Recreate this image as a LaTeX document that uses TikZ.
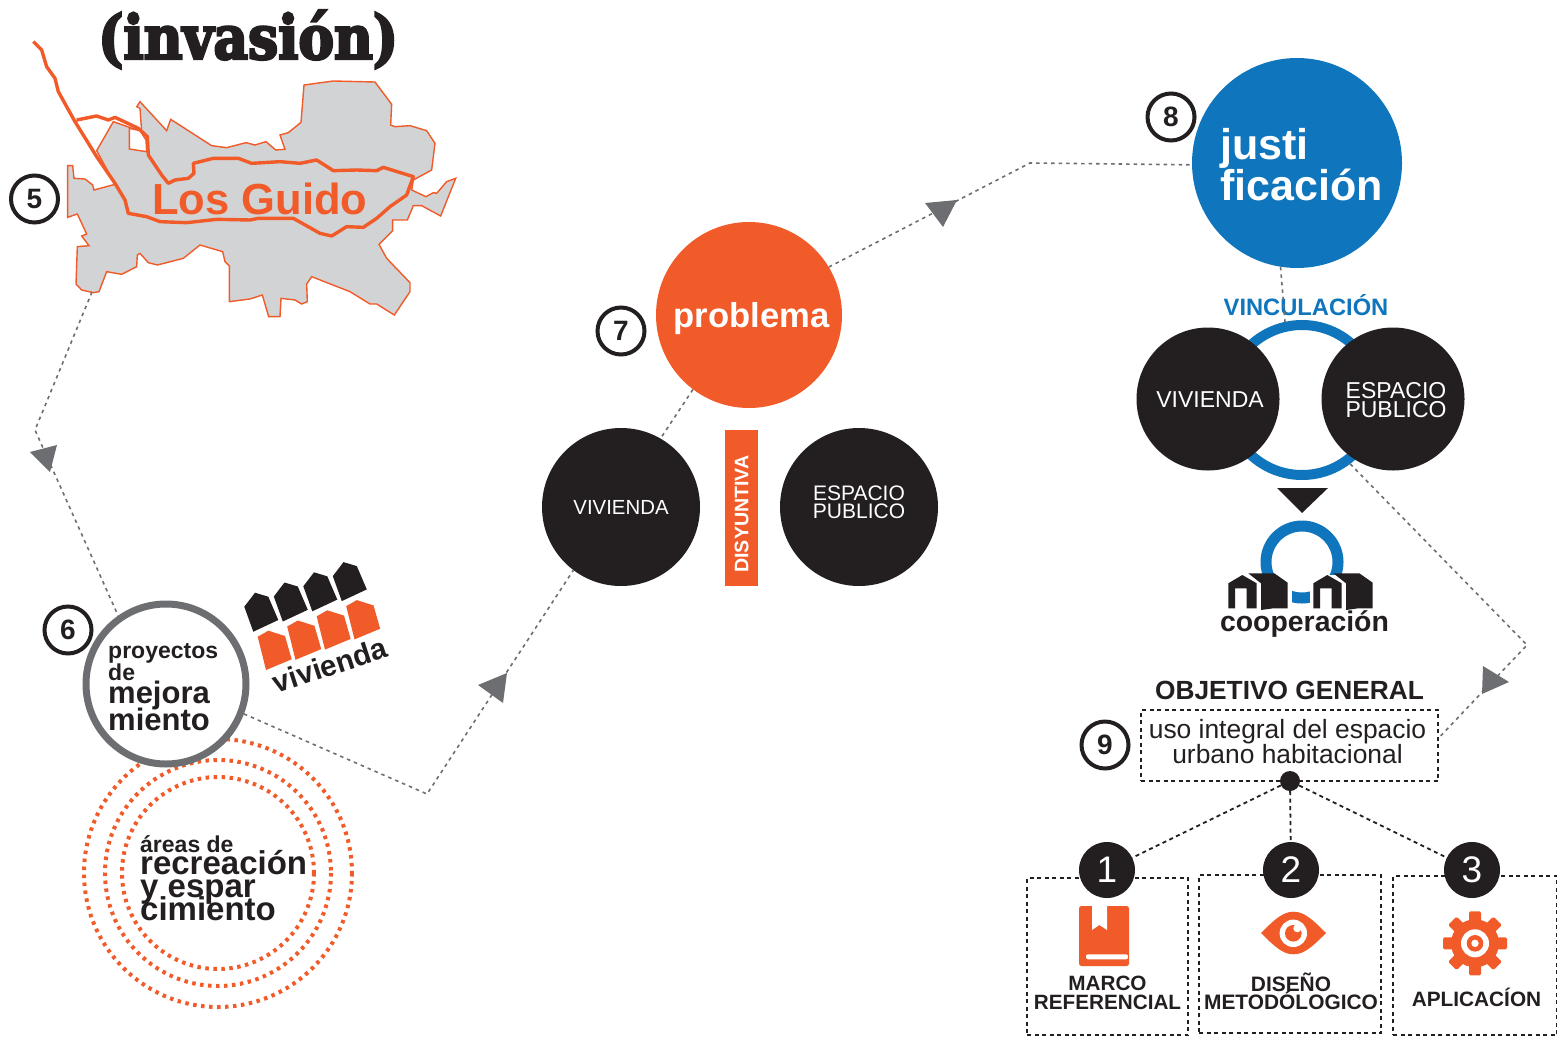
\documentclass[tikz,border=0pt]{standalone}
\usepackage{fontspec}
\setmainfont{Liberation Sans}
\newfontfamily\titulofont[FakeBold=4,FakeStretch=0.875]{DejaVu Serif Bold}
\usetikzlibrary{positioning,shapes.geometric}
\definecolor{naranja}{HTML}{F15A29}
\definecolor{negro}{HTML}{231F20}
\definecolor{azul}{HTML}{0F75BC}
\definecolor{gris}{HTML}{6D6E71}
\definecolor{grismapa}{HTML}{D1D3D4}
\newcommand{\tam}[2]{\fontsize{#1}{#2}\selectfont\lineskiplimit=-100pt\relax}

\begin{document}
\begin{tikzpicture}[x=1pt,y=-1pt]
	\tikzset{numero/.style={draw=negro,circle,line width=4pt,minimum size=47pt,inner sep=0pt,text=negro,font=\tam{28}{28}\bfseries},
		negrita/.style={circle,fill=negro,text=white,inner sep=0pt,align=center},
		link/.style={draw=gris,line width=1.6pt,dash pattern=on 3.5pt off 4pt},
		punta/.style={fill=gris},
		punteo/.style={draw=naranja,line width=4pt,dash pattern=on 3.5pt off 4.5pt},
		caja/.style={draw=negro,line width=1.8pt,dash pattern=on 4pt off 3.5pt,inner sep=0pt},
		rama/.style={draw=negro,line width=1.8pt,dash pattern=on 4pt off 3.5pt},
		etiqueta/.style={text=negro,inner sep=0pt,anchor=base west,align=left},
		rotulo/.style={text=negro,inner sep=0pt,align=center},
		mapa/.style={draw=naranja,line width=1.4pt,fill=grismapa},
		calle/.style={draw=naranja,line width=3.4pt,line join=round},
		numeronegro/.style={circle,fill=negro,text=white,minimum size=56pt,inner sep=0pt,font=\tam{37}{37}},
	}
	\useasboundingbox (0,0) rectangle (1557,1036);

	\node[etiqueta,font=\titulofont\tam{61}{61}] (titulo) at (98,59) {(invasión)};

	% mapa
	\begin{scope}[scale=1/3]
		\path[mapa] (203,497) -- (218,497) -- (222,535) -- (255,537) -- (278,555) -- (282,570) -- (345,553) -- (290,452) -- (340,365) -- (425,395) -- (420,325) -- (410,320) -- (420,305) -- (500,392) -- (512,358) -- (635,437) -- (680,443) -- (738,428) -- (765,435) -- (798,425) -- (827,450) -- (855,448) -- (840,405) -- (865,398) -- (903,367) -- (912,255) -- (1000,243) -- (1125,246) -- (1175,313) -- (1172,375) -- (1185,380) -- (1230,377) -- (1280,392) -- (1305,430) -- (1295,510) -- (1240,540) -- (1235,570) -- (1278,590) -- (1300,578) -- (1310,580) -- (1340,545) -- (1367,535) -- (1322,648) -- (1265,617) -- (1240,617) -- (1222,660) -- (1178,660) -- (1178,692) -- (1137,733) -- (1160,775) -- (1230,848) -- (1230,875) -- (1183,945) -- (1130,912) -- (1110,912) -- (1050,875) -- (935,830) -- (920,852) -- (922,905) -- (905,912) -- (885,900) -- (843,895) -- (840,950) -- (806,950) -- (787,885) -- (750,897) -- (688,905) -- (688,798) -- (675,785) -- (668,755) -- (600,735) -- (550,775) -- (472,795) -- (445,788) -- (420,760) -- (412,765) -- (410,800) -- (365,823) -- (320,815) -- (297,875) -- (280,878) -- (245,870) -- (228,852) -- (232,740) -- (267,737) -- (245,708) -- (260,702) -- (232,642) -- (203,652) -- cycle;
		\path[draw=naranja,line width=1.4pt,fill=white] (388,385) -- (388,447) -- (440,455) -- (438,420) -- (420,392) -- cycle;
		\path[calle] (100,125) -- (125,150) -- (140,200) -- (165,235) -- (175,275) -- (225,365) -- (290,470) -- (345,550) -- (375,600) -- (385,640) -- (440,650) -- (480,665) -- (560,668) -- (650,658) -- (750,660) -- (775,655) -- (880,655) -- (960,700) -- (995,708) -- (1040,680) -- (1090,682) -- (1130,655) -- (1170,620) -- (1220,585) -- (1240,530) -- (1150,502) -- (1130,512) -- (1070,510) -- (1000,512) -- (950,480) -- (900,490) -- (840,485) -- (755,490) -- (715,475) -- (640,475) -- (580,490) -- (582,520) -- (565,535) -- (525,540) -- (505,550) -- (485,525) -- (445,465) -- (442,410) -- (415,385) -- (345,352) -- (325,360) -- (290,348) -- (230,360);
	\end{scope}
	\node[etiqueta,font=\tam{43.5}{43}\bfseries,text=naranja] (guido) at (152,214) {Los Guido};
	\node[numero] (n5) at (34.5,199) {5};
	\coordinate (mapasur) at (92,292);

	% proyectos y areas
	\foreach \r in {134,113,96}
		\path[punteo] (218,873) circle (\r);
	\node[circle,draw=gris,fill=white,line width=7pt,minimum size=160pt,inner sep=0pt] (mejora) at (166,684) {};
	\node[numero] (n6) at (68,630) {6};
	\node[etiqueta,font=\tam{23}{22}\bfseries] (mejoratxt) at (108,730) {proyectos\\de\\[1pt]\tam{31}{27}mejora\\[5pt]\tam{31}{27}miento};
	\node[etiqueta,font=\tam{23}{23}\bfseries] (areastxt) at (140,920.5) {áreas de\\[-1pt]\tam{33}{23}recreación\\\tam{33}{23}y espar\\\tam{33}{23}cimiento};
	\foreach \i in {0,1,2,3} {
		\begin{scope}[shift={(29.5*\i,-10.2*\i)}]
			\path[fill=negro] (244.3,606.7) -- (255,592.7) -- (268.3,596.7) -- (278.3,620) -- (253.3,631.7) -- cycle;
			\path[fill=naranja] (257.7,636.7) -- (268.3,630.7) -- (285,636) -- (291.7,659.3) -- (266,670) -- cycle;
		\end{scope}
	}
	\node[rotulo,font=\tam{29.6}{30}\bfseries,rotate=18] (viviendatxt) at (330,665) {vivienda};

	% problema
	\node[circle,fill=naranja,minimum size=186pt,inner sep=0pt] (problema) at (749,315) {};
	\node[rotulo,text=white,font=\tam{34.6}{35}\bfseries] (problematxt) at (751.5,319) {problema};
	\node[numero] (n7) at (621,331) {7};
	\node[negrita,minimum size=158pt,font=\tam{20.4}{18}] (vivienda) at (621,507) {VIVIENDA};
	\node[negrita,minimum size=158pt] (espacio) at (859,507) {};
	\node[rotulo,text=white,font=\tam{21}{18}] (espaciotxt) at (859,502.5) {ESPACIO\\PUBLICO};
	\node[fill=naranja,text=white,minimum width=33pt,minimum height=156pt,inner sep=0pt] (disyuntiva) at (741.5,508) {};
	\node[text=white,inner sep=0pt,rotate=90,font=\tam{19.6}{20}\bfseries] (disyuntivatxt) at (741.5,514) {DISYUNTIVA};

	% justificacion
	\node[circle,fill=azul,minimum size=210pt,inner sep=0pt] (justi) at (1297,163) {};
	\node[etiqueta,text=white,font=\tam{43}{41}\bfseries] (justitxt) at (1220,200) {justi\\ficación};
	\node[numero] (n8) at (1171,117) {8};
	\node[rotulo,font=\tam{23.7}{24}\bfseries,text=azul] (vinculacion) at (1306,305) {VINCULACIÓN};
	\coordinate (vincfin) at (1285,322);
	\node[circle,draw=azul,line width=10pt,minimum size=150pt,inner sep=0pt] (anillo) at (1302,400) {};
	\node[negrita,minimum size=143pt] (vivienda2) at (1208,399) {};
	\node[negrita,minimum size=143pt] (espacio2) at (1393,399) {};
	\node[rotulo,text=white,font=\tam{23}{23}] (vivienda2txt) at (1210,400) {VIVIENDA};
	\node[rotulo,text=white,font=\tam{23}{19.5}] (espacio2txt) at (1396,400) {ESPACIO\\PUBLICO};
	\path[fill=negro] (1277,488) -- (1328,488) -- (1302,513) -- cycle;

	% cooperacion
	\node[circle,draw=azul,line width=11pt,minimum size=72pt,inner sep=0pt] (anillo2) at (1302,562) {};
	\path[fill=white] (1226,575) rectangle (1292,612);
	\path[fill=white] (1310,575) rectangle (1376,612);
	\foreach \d in {0,85} {
		\begin{scope}[xshift=\d]
			\path[fill=negro] (1228.3,583.3) -- (1242.3,575) -- (1256.7,583.3) -- (1256.7,608.3) -- (1246.7,608.3) -- (1246.7,588.3) -- (1235,588.3) -- (1235,608.3) -- (1228.3,608.3) -- cycle;
			\path[fill=negro] (1248.3,573.3) -- (1274.3,573.3) -- (1287.7,582.7) -- (1287.7,608.3) -- (1273.3,608.3) -- (1261,610) -- (1261,583.3) -- cycle;
		\end{scope}
	}
	\node[rotulo,font=\tam{28.4}{28}\bfseries] (cooperacion) at (1304.5,624) {cooperación};

	% objetivo
	\node[rotulo,font=\tam{26.3}{27}\bfseries] (objetivotxt) at (1289.5,690) {OBJETIVO GENERAL};
	\node[caja,minimum width=297pt,minimum height=71pt] (objetivo) at (1289.5,745.5) {};
	\node[rotulo,font=\tam{26.4}{25}] (usotxt) at (1287.5,741.5) {uso integral del espacio\\urbano habitacional};
	\node[numero] (n9) at (1105,745) {9};
	\node[circle,fill=negro,minimum size=20pt,inner sep=0pt] (punto) at (1290,781) {};

	\node[caja,minimum width=161pt,minimum height=157pt] (caja1) at (1107.5,956.5) {};
	\node[caja,minimum width=182pt,minimum height=158pt] (caja2) at (1290,954) {};
	\node[caja,minimum width=164pt,minimum height=159pt] (caja3) at (1475,955.5) {};
	\node[numeronegro] (uno) at (1107,870) {1};
	\node[numeronegro] (dos) at (1291,870) {2};
	\node[numeronegro] (tres) at (1472,870) {3};

	% iconos
	\path[fill=naranja,rounded corners=2.5pt] (1079,906) rectangle (1129,966);
	\path[fill=white] (1092,905) -- (1107,905) -- (1107,930) -- (1099.3,925) -- (1092,930) -- cycle;
	\path[fill=white,rounded corners=2pt] (1086,954.3) rectangle (1128,959.3);

	\path[fill=naranja] (1261,933) .. controls (1275,919) and (1283,911.7) .. (1293.5,911.7) .. controls (1304,911.7) and (1312,919) .. (1326,933) .. controls (1312,947) and (1304,954.3) .. (1293.5,954.3) .. controls (1283,954.3) and (1275,947) .. cycle;
	\path[fill=white] (1293.3,933.3) circle (13.7);
	\path[fill=naranja] (1293.3,933.3) circle (8.3);
	\path[fill=white] (1297.3,928.3) circle (4);

	\path[fill=naranja] (1475,943.3) circle (24);
	\foreach \a in {0,45,...,315}
		\path[fill=naranja,rotate around={\a:(1475,943.3)},rounded corners=1.5pt] (1469,911.3) rectangle (1481,930);
	\path[fill=white] (1475,943.3) circle (14);
	\path[fill=naranja] (1475,943.3) circle (8.3);
	\path[fill=white] (1475,943.3) circle (3.7);

	\node[rotulo,font=\tam{20.7}{19}\bfseries] (marco) at (1107.5,993) {MARCO\\REFERENCIAL};
	\node[rotulo,font=\tam{20.9}{18}\bfseries] (diseno) at (1291,991) {DISEÑO\\METODÓLOGICO};
	\node[rotulo,font=\tam{20.8}{21}\bfseries] (aplicacion) at (1476.5,997.5) {APLICACÍON};

	% conectores
	\coordinate (c1) at (35,430);
	\coordinate (c2) at (427,794);
	\coordinate (c3) at (1030,163);
	\coordinate (c4) at (1527,645);
	\path[link] (mapasur) -- (c1) -- (mejora.125);
	\path[link] (mejora.-21) -- (c2) -- (vivienda.233);
	\path[link] (problema.233) -- (vivienda.60);
	\path[link] (problema.31) -- (c3) -- (justi.181);
	\path[link] (justi.261) -- (vincfin);
	\path[link] (anillo.-53) -- (c4) -- (objetivo.3);
	\path[punta] (30,452) -- (57,445) -- (50,472) -- cycle;
	\path[punta] (478,685) -- (507,673) -- (503,703) -- cycle;
	\path[punta] (925,203) -- (957,200) -- (943,227) -- cycle;
	\path[punta] (1483,666) -- (1509,682) -- (1482,694) -- cycle;
	\path[rama] (punto) -- (uno);
	\path[rama] (punto) -- (dos);
	\path[rama] (punto) -- (tres);
\end{tikzpicture}
\end{document}
